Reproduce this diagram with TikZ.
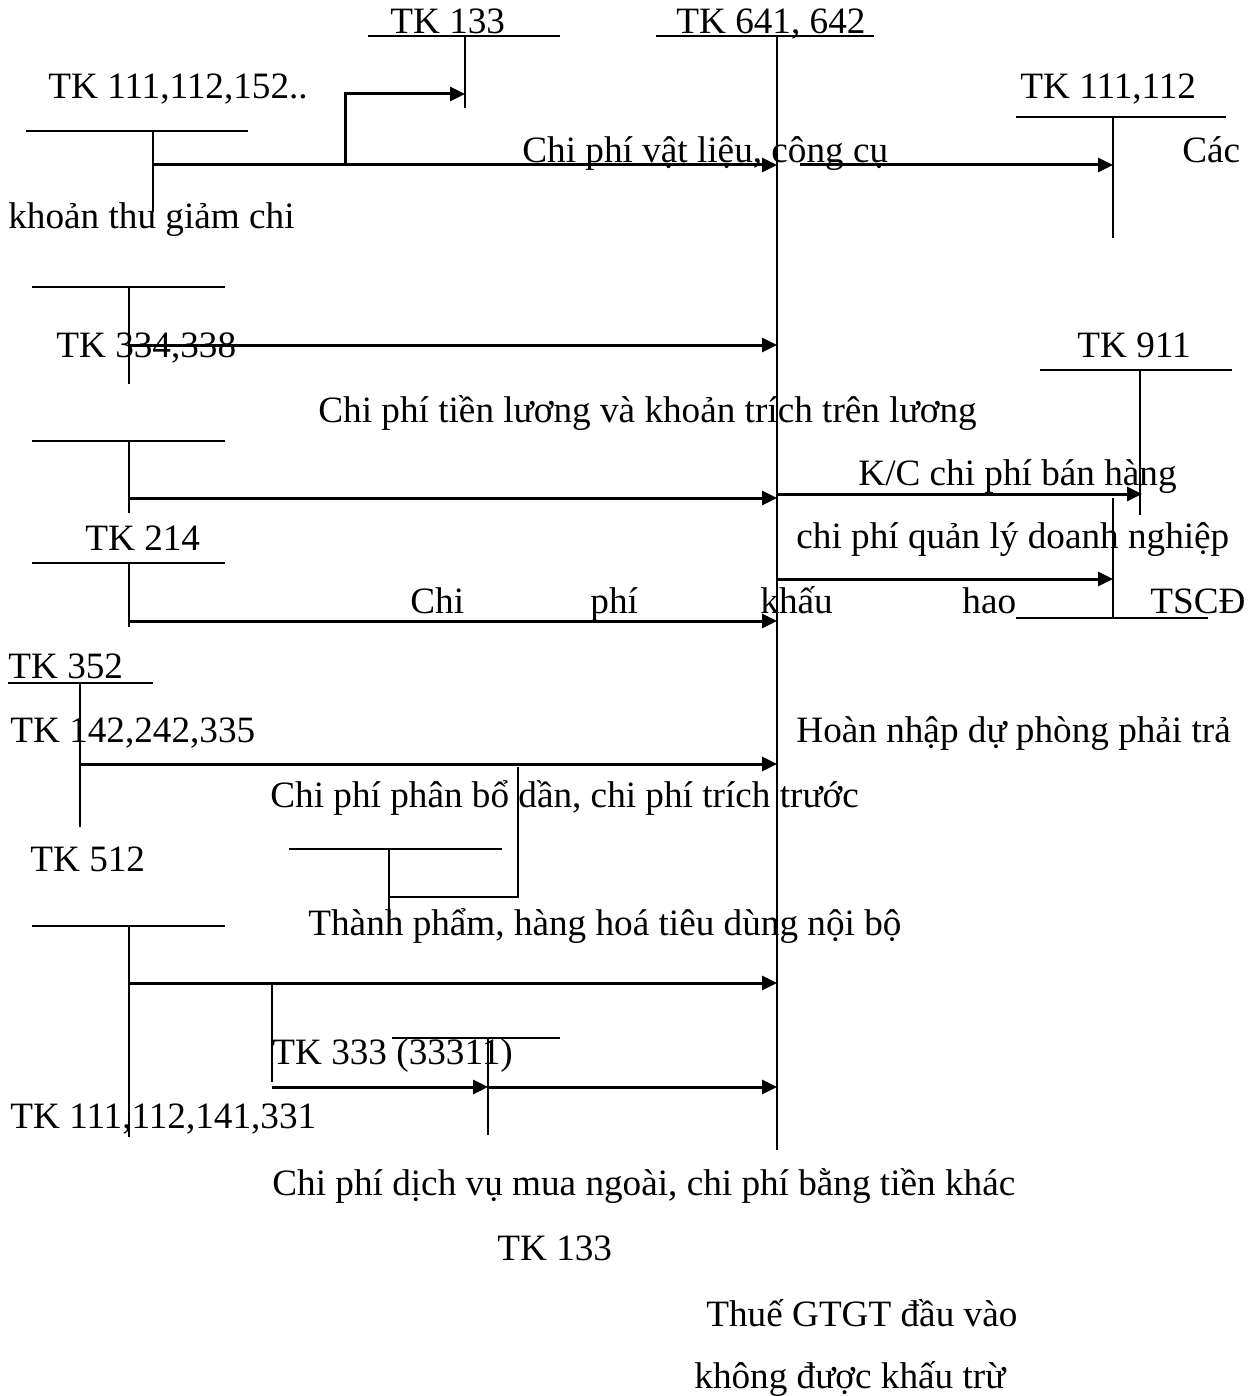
\documentclass[tikz,border=0pt]{standalone}
\usepackage{fontspec}
\setmainfont{Liberation Serif}
\usetikzlibrary{arrows.meta,positioning,calc}

\begin{document}
\begin{tikzpicture}[
    x=0.5pt, y=-0.5pt,
    lbl/.style={anchor=base west, inner sep=0pt, font=\fontsize{18.6}{22}\selectfont},
    acc/.style={line width=1pt},
    arrow/.style={-{Triangle[length=7.5pt,width=7pt]}, line width=1.5pt}
]
    \useasboundingbox (0,0) rectangle (1254,1396);

    % main account TK 641, 642
    \node[lbl] (t641) at (676,34) {TK 641, 642};
    \draw[acc] (656,36) -- (874,36);
    \coordinate (m0) at (777,36);
    \coordinate (m1) at (777,1150);
    \draw[acc] (m0) -- (m1);

    % TK 111,112,152.. and TK 133
    \node[lbl] (t111) at (48,99) {TK 111,112,152..};
    \draw[acc] (26,131) -- (248,131);
    \draw[acc] (153,131) -- (153,212);
    \node[lbl] (t133a) at (390,34) {TK 133};
    \draw[acc] (368,36) -- (560,36);
    \draw[acc] (465,36) -- (465,108);
    \coordinate (a1) at (153,165);
    \coordinate (a2) at (345,165);
    \draw[arrow] (a1) -- (777,165);
    \draw[arrow] (a2) -- (345,94) -- (465,94);
    \node[lbl] (vl) at (522,163) {Chi phí vật liệu, công cụ};

    % TK 111,112 (thu giam chi)
    \node[lbl] (t111b) at (1020,99) {TK 111,112};
    \draw[acc] (1016,117) -- (1226,117);
    \draw[acc] (1113,117) -- (1113,238);
    \draw[arrow] (800,165) -- (1113,165);
    \node[lbl] (cac) at (1182,163) {Các};
    \node[lbl] (ktgc) at (8,228) {khoản thu giảm chi};

    % TK 334,338
    \draw[acc] (32,287) -- (225,287);
    \draw[acc] (129,287) -- (129,384);
    \node[lbl] (t334) at (56,357) {TK 334,338};
    \draw[arrow] (129,345) -- (777,345);
    \node[lbl] (luong) at (318,422) {Chi phí tiền lương và khoản trích trên lương};

    % TK 911
    \node[lbl] (t911) at (1077,357) {TK 911};
    \draw[acc] (1040,370) -- (1232,370);
    \draw[acc] (1140,370) -- (1140,515);

    % third account
    \draw[acc] (32,441) -- (225,441);
    \draw[acc] (129,441) -- (129,513);
    \draw[arrow] (129,498) -- (777,498);
    \draw[arrow] (777,494) -- (1142,494);
    \node[lbl] (kc) at (858,485) {K/C chi phí bán hàng};
    \node[lbl] (qldn) at (796,548) {chi phí quản lý doanh nghiệp};

    % TK 352 (right side)
    \draw[acc] (1016,618) -- (1208,618);
    \draw[acc] (1113,498) -- (1113,618);
    \draw[arrow] (777,579) -- (1113,579);

    % TK 214
    \node[lbl] (t214) at (85,550) {TK 214};
    \draw[acc] (32,563) -- (225,563);
    \draw[acc] (129,563) -- (129,627);
    \draw[arrow] (129,621) -- (777,621);
    \node[lbl] (kh1) at (410,613) {Chi};
    \node[lbl] (kh2) at (590,613) {phí};
    \node[lbl] (kh3) at (760,613) {khấu};
    \node[lbl] (kh4) at (962,613) {hao};
    \node[lbl] (kh5) at (1150,613) {TSCĐ};

    % TK 352 / TK 142,242,335
    \node[lbl] (t352) at (8,678) {TK 352};
    \draw[acc] (8,683) -- (153,683);
    \draw[acc] (80,683) -- (80,827);
    \node[lbl] (t142) at (10,742) {TK 142,242,335};
    \draw[arrow] (80,764) -- (777,764);
    \node[lbl] (hoan) at (796,742) {Hoàn nhập dự phòng phải trả};
    \node[lbl] (pb) at (270,807) {Chi phí phân bổ dần, chi phí trích trước};

    % TK 512
    \node[lbl] (t512) at (30,871) {TK 512};
    \draw[acc] (289,849) -- (502,849);
    \draw[acc] (389,849) -- (389,918);
    \draw[acc] (389,897) -- (518,897) -- (518,767);
    \node[lbl] (tp) at (308,935) {Thành phẩm, hàng hoá tiêu dùng nội bộ};

    % TK 111,112,141,331
    \draw[acc] (32,926) -- (225,926);
    \draw[acc] (129,926) -- (129,1137);
    \draw[arrow] (129,983) -- (777,983);
    \draw[acc] (272,983) -- (272,1082);
    \node[lbl] (t333) at (272,1064) {TK 333 (33311)};
    \draw[acc] (392,1038) -- (560,1038);
    \draw[acc] (488,1038) -- (488,1135);
    \draw[arrow] (272,1087) -- (488,1087);
    \draw[arrow] (488,1087) -- (777,1087);
    \node[lbl] (t1113) at (10,1128) {TK 111,112,141,331};

    % bottom labels
    \node[lbl] (dv) at (272,1195) {Chi phí dịch vụ mua ngoài, chi phí bằng tiền khác};
    \node[lbl] (t133b) at (497,1260) {TK 133};
    \node[lbl] (gtgt) at (706,1326) {Thuế GTGT đầu vào};
    \node[lbl] (kdk) at (694,1388) {không được khấu trừ};
\end{tikzpicture}
\end{document}
